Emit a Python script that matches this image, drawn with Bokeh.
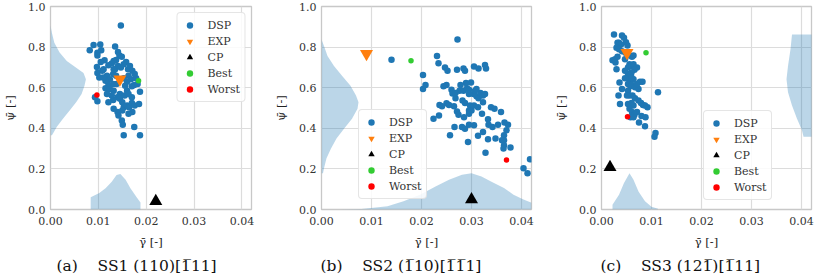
from bokeh.plotting import figure
from bokeh.layouts import row
from bokeh.models import Range1d, FixedTicker, Legend, LegendItem
from bokeh.embed import file_html
from bokeh.resources import INLINE

# ---------------- data ----------------
x_ticks = [0.0, 0.01, 0.02, 0.03, 0.04]
x_tick_labels = ["0.00", "0.01", "0.02", "0.03", "0.04"]
y_ticks = [0.0, 0.2, 0.4, 0.6, 0.8, 1.0]
y_tick_labels = ["0.0", "0.2", "0.4", "0.6", "0.8", "1.0"]
legend_labels = ["DSP", "EXP", "CP", "Best", "Worst"]
NB = "\u00a0"
captions = ["(a)" + NB * 4 + "SS1" + NB + "(110)[1\u030511]",
            "(b)" + NB * 4 + "SS2" + NB + "(1\u030510)[1\u03051\u03051]",
            "(c)" + NB * 4 + "SS3" + NB + "(121\u0305)[1\u030511]"]
x_label = "\u03b3\u0304 [-]"
y_label = "\u03c8\u0304 [-]"

# SS1
ss1_dsp_gamma = [0.0147, 0.0082, 0.0090, 0.0104, 0.0106, 0.0098, 0.0098, 0.0135, 0.0141, 0.0144,
                 0.0149, 0.0158, 0.0137, 0.0132, 0.0128, 0.0121, 0.0113, 0.0105, 0.0097, 0.0098,
                 0.0102, 0.0108, 0.0111, 0.0118, 0.0124, 0.0131, 0.0135, 0.0141, 0.0147, 0.0153,
                 0.0162, 0.0166, 0.0171, 0.0163, 0.0168, 0.0160, 0.0153, 0.0138, 0.0131, 0.0121,
                 0.0115, 0.0124, 0.0132, 0.0145, 0.0140, 0.0131, 0.0121, 0.0145, 0.0150, 0.0153,
                 0.0160, 0.0164, 0.0170, 0.0170, 0.0176, 0.0171, 0.0163, 0.0150, 0.0140, 0.0142,
                 0.0132, 0.0149, 0.0151, 0.0175, 0.0153, 0.0187, 0.0187, 0.0185, 0.0179, 0.0182,
                 0.0175, 0.0170, 0.0176, 0.0115, 0.0110, 0.0093, 0.0098, 0.0128, 0.0118, 0.0132,
                 0.0137, 0.0156, 0.0160, 0.0155, 0.0163]
ss1_dsp_psi = [0.906, 0.784, 0.810, 0.813, 0.784, 0.772, 0.759, 0.803, 0.776, 0.759,
               0.753, 0.727, 0.737, 0.732, 0.719, 0.711, 0.735, 0.727, 0.702, 0.672,
               0.650, 0.683, 0.691, 0.659, 0.642, 0.667, 0.691, 0.707, 0.699, 0.715,
               0.691, 0.707, 0.683, 0.659, 0.642, 0.629, 0.646, 0.618, 0.618, 0.613,
               0.597, 0.593, 0.585, 0.569, 0.553, 0.540, 0.528, 0.545, 0.528, 0.504,
               0.512, 0.504, 0.525, 0.553, 0.512, 0.480, 0.472, 0.488, 0.480, 0.463,
               0.496, 0.439, 0.418, 0.407, 0.366, 0.366, 0.580, 0.520, 0.646, 0.618,
               0.613, 0.607, 0.667, 0.634, 0.650, 0.553, 0.533, 0.561, 0.569, 0.691,
               0.659, 0.610, 0.585, 0.561, 0.569]
ss1_exp = ([0.0145], [0.642])
ss1_cp = ([0.0220], [0.041])
ss1_best = ([0.0184], [0.634])
ss1_worst = ([0.0097], [0.564])
ss1_kde_y = [0.906, 0.870, 0.821, 0.773, 0.732, 0.699, 0.672, 0.642, 0.610, 0.569,
             0.529, 0.488, 0.447, 0.407, 0.382, 0.366]
ss1_kde_y_width = [0.0000, 0.0003, 0.0008, 0.0019, 0.0034, 0.0053, 0.0069, 0.0074, 0.0071, 0.0065,
                   0.0054, 0.0040, 0.0026, 0.0013, 0.0007, 0.0003]
ss1_kde_x = [0.0084, 0.0102, 0.0115, 0.0128, 0.0138, 0.0146, 0.0157, 0.0167, 0.0180, 0.0188]
ss1_kde_x_height = [0.060, 0.081, 0.105, 0.137, 0.170, 0.175, 0.146, 0.105, 0.060, 0.035]

# SS2
ss2_dsp_gamma = [0.0140, 0.0272, 0.0231, 0.0234, 0.0203, 0.0203, 0.0208, 0.0247, 0.0252, 0.0271,
                 0.0284, 0.0287, 0.0305, 0.0314, 0.0327, 0.0329, 0.0244, 0.0250, 0.0260, 0.0262,
                 0.0268, 0.0276, 0.0284, 0.0291, 0.0295, 0.0299, 0.0289, 0.0304, 0.0307, 0.0310,
                 0.0314, 0.0318, 0.0323, 0.0327, 0.0310, 0.0250, 0.0255, 0.0265, 0.0271, 0.0274,
                 0.0282, 0.0287, 0.0297, 0.0295, 0.0300, 0.0295, 0.0305, 0.0313, 0.0323, 0.0321,
                 0.0339, 0.0346, 0.0333, 0.0342, 0.0334, 0.0353, 0.0359, 0.0366, 0.0373, 0.0370,
                 0.0365, 0.0365, 0.0361, 0.0365, 0.0364, 0.0378, 0.0348, 0.0333, 0.0328, 0.0323,
                 0.0313, 0.0305, 0.0295, 0.0287, 0.0281, 0.0293, 0.0266, 0.0257, 0.0241, 0.0235,
                 0.0224, 0.0236, 0.0278, 0.0268, 0.0295, 0.0404, 0.0412, 0.0417, 0.0285]
ss2_dsp_psi = [0.738, 0.837, 0.756, 0.720, 0.663, 0.593, 0.613, 0.699, 0.683, 0.688,
               0.694, 0.683, 0.704, 0.694, 0.712, 0.694, 0.607, 0.613, 0.590, 0.572,
               0.548, 0.585, 0.585, 0.597, 0.590, 0.626, 0.623, 0.569, 0.585, 0.558,
               0.548, 0.574, 0.561, 0.569, 0.593, 0.524, 0.515, 0.509, 0.483, 0.467,
               0.537, 0.525, 0.512, 0.488, 0.488, 0.472, 0.512, 0.504, 0.528, 0.472,
               0.504, 0.496, 0.444, 0.407, 0.418, 0.418, 0.480, 0.428, 0.418, 0.390,
               0.366, 0.341, 0.341, 0.317, 0.301, 0.306, 0.350, 0.346, 0.280, 0.382,
               0.363, 0.415, 0.418, 0.398, 0.407, 0.333, 0.407, 0.366, 0.509, 0.463,
               0.447, 0.515, 0.613, 0.574, 0.569, 0.203, 0.179, 0.247, 0.455]
ss2_exp = ([0.0090], [0.767])
ss2_cp = ([0.0300], [0.049])
ss2_best = ([0.0179], [0.733])
ss2_worst = ([0.0370], [0.244])
ss2_kde_y = [0.837, 0.805, 0.756, 0.707, 0.659, 0.610, 0.561, 0.528, 0.496, 0.447,
             0.398, 0.350, 0.301, 0.252, 0.203, 0.179]
ss2_kde_y_width = [0.0000, 0.0005, 0.0012, 0.0025, 0.0041, 0.0058, 0.0069, 0.0074, 0.0072, 0.0061,
                   0.0045, 0.0030, 0.0019, 0.0010, 0.0005, 0.0003]
ss2_kde_x = [0.0035, 0.0080, 0.0132, 0.0164, 0.0197, 0.0229, 0.0255, 0.0281, 0.0300, 0.0320,
             0.0339, 0.0365, 0.0384, 0.0404, 0.0420]
ss2_kde_x_height = [0.000, 0.003, 0.016, 0.041, 0.073, 0.114, 0.146, 0.171, 0.179, 0.163,
                    0.138, 0.106, 0.073, 0.049, 0.033]

# SS3
ss3_dsp_gamma = [0.0025, 0.0041, 0.0045, 0.0035, 0.0049, 0.0032, 0.0039, 0.0052, 0.0030, 0.0035,
                 0.0041, 0.0022, 0.0027, 0.0032, 0.0028, 0.0030, 0.0047, 0.0056, 0.0061, 0.0064,
                 0.0056, 0.0053, 0.0060, 0.0064, 0.0071, 0.0066, 0.0060, 0.0053, 0.0047, 0.0056,
                 0.0064, 0.0047, 0.0036, 0.0041, 0.0053, 0.0058, 0.0061, 0.0067, 0.0074, 0.0077,
                 0.0082, 0.0071, 0.0053, 0.0056, 0.0062, 0.0067, 0.0074, 0.0079, 0.0083, 0.0092,
                 0.0087, 0.0060, 0.0053, 0.0064, 0.0056, 0.0061, 0.0066, 0.0071, 0.0058, 0.0064,
                 0.0080, 0.0088, 0.0075, 0.0087, 0.0034, 0.0037, 0.0113, 0.0108, 0.0106, 0.0051,
                 0.0048, 0.0060]
ss3_dsp_psi = [0.862, 0.857, 0.846, 0.821, 0.824, 0.821, 0.813, 0.808, 0.797, 0.789,
               0.780, 0.735, 0.740, 0.753, 0.724, 0.691, 0.740, 0.759, 0.753, 0.759,
               0.715, 0.699, 0.707, 0.715, 0.699, 0.688, 0.675, 0.667, 0.683, 0.642,
               0.642, 0.646, 0.626, 0.593, 0.618, 0.607, 0.613, 0.602, 0.593, 0.629,
               0.629, 0.618, 0.585, 0.561, 0.561, 0.548, 0.537, 0.525, 0.515, 0.504,
               0.512, 0.525, 0.520, 0.512, 0.496, 0.480, 0.467, 0.480, 0.455, 0.455,
               0.460, 0.455, 0.428, 0.410, 0.561, 0.520, 0.577, 0.377, 0.358, 0.561,
               0.772, 0.650]
ss3_exp = ([0.0051], [0.772])
ss3_cp = ([0.0017], [0.208])
ss3_best = ([0.0089], [0.772])
ss3_worst = ([0.0052], [0.457])
ss3_kde_y = [0.862, 0.789, 0.707, 0.642, 0.577, 0.512, 0.447, 0.390, 0.358]
ss3_kde_y_edge = [0.0381, 0.0378, 0.0373, 0.0370, 0.0373, 0.0381, 0.0391, 0.0401, 0.0404]
ss3_kde_y_base = 0.0450
ss3_kde_x = [0.0022, 0.0035, 0.0045, 0.0056, 0.0064, 0.0074, 0.0087, 0.0100, 0.0113]
ss3_kde_x_height = [0.024, 0.073, 0.130, 0.179, 0.146, 0.089, 0.041, 0.013, 0.004]

# ---------------- style ----------------
FONT = "DejaVu Serif"
KDE_COLOR = "#1f77b4"
DSP_COLOR = "#1f77b4"
EXP_COLOR = "#ff7f0e"
CP_COLOR = "black"
BEST_COLOR = "#33cc33"
WORST_COLOR = "#ff0000"


def make_panel(caption, width, left_border, right_border, caption_offset):
    p = figure(width=width, height=278, output_backend="svg", toolbar_location=None,
               x_range=Range1d(0, 0.042), y_range=Range1d(0, 1.0),
               min_border_left=left_border, min_border_right=right_border, min_border_top=6,
               min_border_bottom=0, title=caption, title_location="below")
    p.title.text_font = FONT
    p.title.text_font_size = "15.5px"
    p.title.text_font_style = "normal"
    p.title.align = "left"
    p.title.offset = caption_offset
    p.title.text_color = "#111111"
    p.title.standoff = 7

    for ax in (p.xaxis[0], p.yaxis[0]):
        ax.axis_line_color = None
        ax.major_tick_line_color = None
        ax.minor_tick_line_color = None
        ax.major_tick_out = 0
        ax.major_tick_in = 0
        ax.major_label_text_font = FONT
        ax.major_label_text_font_size = "11px"
        ax.major_label_text_color = "#333333"
        ax.axis_label_text_font = FONT
        ax.axis_label_text_font_size = "11.5px"
        ax.axis_label_text_font_style = "normal"
        ax.axis_label_text_color = "#222222"
    p.xaxis.ticker = FixedTicker(ticks=x_ticks)
    p.xaxis.major_label_overrides = dict(zip(x_ticks, x_tick_labels))
    p.yaxis.ticker = FixedTicker(ticks=y_ticks)
    p.yaxis.major_label_overrides = dict(zip(y_ticks, y_tick_labels))
    p.xaxis.axis_label = x_label
    p.yaxis.axis_label = y_label
    p.xaxis.major_label_standoff = 7
    p.yaxis.major_label_standoff = 5
    p.xaxis.axis_label_standoff = 7
    p.yaxis.axis_label_standoff = 8

    p.grid.grid_line_color = "#dcdcdc"
    p.grid.grid_line_width = 1.2
    p.outline_line_color = "#c8c8c8"
    p.outline_line_width = 1.3
    p.background_fill_color = "white"
    p.border_fill_color = "white"
    return p


def add_points(p, dsp_g, dsp_p, exp, cp, best, worst, legend_loc):
    r_dsp = p.scatter(dsp_g, dsp_p, marker="circle", size=6.5, fill_color=DSP_COLOR, line_color=None)
    r_exp = p.scatter(exp[0], exp[1], marker="inverted_triangle", size=13, fill_color=EXP_COLOR, line_color=None)
    r_cp = p.scatter(cp[0], cp[1], marker="triangle", size=13, fill_color=CP_COLOR, line_color=None)
    r_best = p.scatter(best[0], best[1], marker="circle", size=5.5, fill_color=BEST_COLOR, line_color=None)
    r_worst = p.scatter(worst[0], worst[1], marker="circle", size=5.5, fill_color=WORST_COLOR, line_color=None)
    items = [LegendItem(label=l, renderers=[r]) for l, r in
             zip(legend_labels, [r_dsp, r_exp, r_cp, r_best, r_worst])]
    leg = Legend(items=items, location=legend_loc)
    leg.label_text_font = FONT
    leg.label_text_font_size = "11px"
    leg.label_text_color = "#333333"
    leg.glyph_width = 16
    leg.glyph_height = 16
    leg.label_height = 16
    leg.spacing = 0
    leg.padding = 4
    leg.label_standoff = 10
    leg.margin = 6 if isinstance(legend_loc, str) else 0
    leg.border_line_color = "#cccccc"
    leg.border_line_width = 1
    leg.background_fill_alpha = 0.85
    if "border_radius" in Legend.properties():
        leg.border_radius = 4
    p.add_layout(leg)


# Panel 1
p1 = make_panel(captions[0], 271, 41, 20, 6)
p1.harea(x1=0, x2=ss1_kde_y_width, y=ss1_kde_y, fill_color=KDE_COLOR, fill_alpha=0.3)
p1.varea(x=ss1_kde_x, y1=0, y2=ss1_kde_x_height, fill_color=KDE_COLOR, fill_alpha=0.3)
add_points(p1, ss1_dsp_gamma, ss1_dsp_psi, ss1_exp, ss1_cp, ss1_best, ss1_worst, "top_right")

# Panel 2
p2 = make_panel(captions[1], 280, 50, 20, -1)
p2.harea(x1=0, x2=ss2_kde_y_width, y=ss2_kde_y, fill_color=KDE_COLOR, fill_alpha=0.3)
p2.varea(x=ss2_kde_x, y1=0, y2=ss2_kde_x_height, fill_color=KDE_COLOR, fill_alpha=0.3)
add_points(p2, ss2_dsp_gamma, ss2_dsp_psi, ss2_exp, ss2_cp, ss2_best, ss2_worst, (37, 10))

# Panel 3
p3 = make_panel(captions[2], 263, 50, 3, -1)
p3.harea(x1=ss3_kde_y_edge, x2=ss3_kde_y_base, y=ss3_kde_y, fill_color=KDE_COLOR, fill_alpha=0.3)
p3.varea(x=ss3_kde_x, y1=0, y2=ss3_kde_x_height, fill_color=KDE_COLOR, fill_alpha=0.3)
add_points(p3, ss3_dsp_gamma, ss3_dsp_psi, ss3_exp, ss3_cp, ss3_best, ss3_worst, (102, 9))

layout = row(p1, p2, p3, spacing=0)
open("out.html", "w").write(file_html(layout, INLINE))
